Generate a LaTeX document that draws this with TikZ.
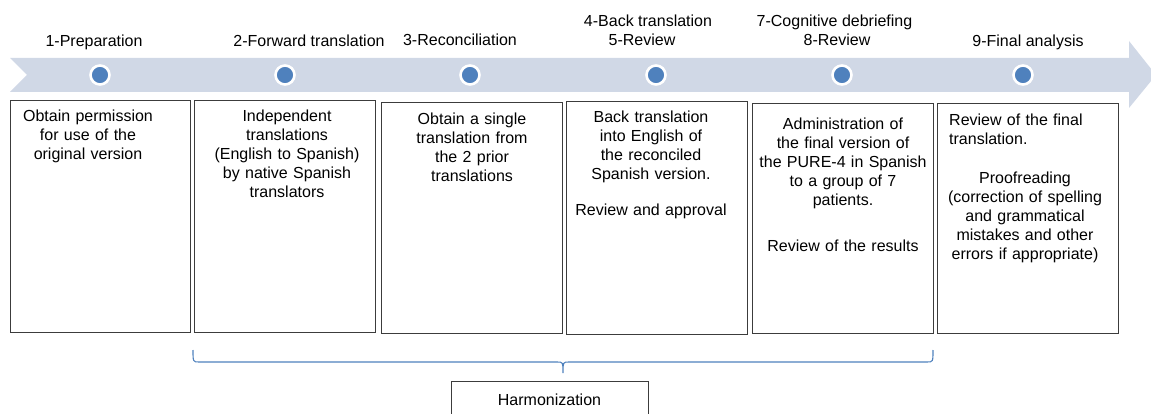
\documentclass[tikz,border=0pt]{standalone}
\usepackage{fontspec}
\setmainfont{Liberation Sans}
\definecolor{band}{RGB}{208,216,230}
\definecolor{dotblue}{RGB}{79,129,189}
\definecolor{boxline}{RGB}{60,60,60}
\begin{document}
\begin{tikzpicture}[x=1pt,y=-1pt,
  stepbox/.style={draw=boxline, line width=0.9pt, anchor=north west, inner sep=0pt},
  dotmark/.style={circle, fill=dotblue, draw=white, line width=2.6pt, minimum size=19pt, inner sep=0pt},
  lbl/.style={font=\fontsize{16}{19}\selectfont, anchor=base, inner sep=0pt},
  boxtxt/.style={font=\fontsize{16}{19}\selectfont, anchor=base, inner sep=0pt, text width=185pt, align=center},
  bracecol/.style={draw=dotblue, line width=1.1pt}]
\useasboundingbox (0,0) rectangle (1151,414);
\clip (0,0) rectangle (1151,414);
% arrow band
\fill[band] (10,58) -- (1129,58) -- (1129,41) -- (1156,75) -- (1129,108) -- (1129,92) -- (10,92) -- (27,75) -- cycle;
% dots
\foreach \x/\n in {100/d1,285/d2,470/d3,656/d4,842/d5,1023/d6}
  \node[dotmark] (\n) at (\x,75) {};
% top labels
\node[lbl] (l1) at (94,46.5) {1-Preparation};
\node[lbl] (l2) at (309,46.5) {2-Forward translation};
\node[lbl] (l3) at (460,46) {3-Reconciliation};
\node[lbl] (l4) at (648,27) {4-Back translation};
\node[lbl] (l5) at (642,46) {5-Review};
\node[lbl] (l7) at (834.5,27) {7-Cognitive debriefing};
\node[lbl] (l8) at (837,46) {8-Review};
\node[lbl] (l9) at (1028,46.5) {9-Final analysis};
% boxes
\node[stepbox, minimum width=180pt, minimum height=232pt] (b1) at (10,100) {};
\node[stepbox, minimum width=181pt, minimum height=232pt] (b2) at (194,100) {};
\node[stepbox, minimum width=181pt, minimum height=231pt] (b3) at (381,102) {};
\node[stepbox, minimum width=181pt, minimum height=233pt] (b4) at (566,101) {};
\node[stepbox, minimum width=181pt, minimum height=230pt] (b5) at (752,103) {};
\node[stepbox, minimum width=181pt, minimum height=230pt] (b6) at (937,103) {};
% box texts
\node[boxtxt] (t1) at (88,122) {Obtain permission\\for use of the\\original version};
\node[boxtxt] (t2) at (287,122) {Independent\\translations\\(English to Spanish)\\by native Spanish\\translators};
\node[boxtxt] (t3) at (472,125) {Obtain a single\\translation from\\the 2 prior\\translations};
\node[boxtxt] (t4) at (651,123) {Back translation\\into English of\\the reconciled\\Spanish version.\\[17pt]Review and approval};
\node[boxtxt] (t5) at (843,130) {Administration of\\the final version of\\the PURE-4 in Spanish\\to a group of 7\\patients.\\[27pt]Review of the results};
\node[font=\fontsize{16}{19}\selectfont, anchor=base west, inner sep=0pt, text width=165pt, align=left] (t6a) at (949,126) {Review of the final\\translation.};
\node[boxtxt] (t6b) at (1025,184) {Proofreading\\(correction of spelling\\and grammatical\\mistakes and other\\errors if appropriate)};
% brace
\coordinate (bl) at (193,350);
\coordinate (bm) at (563,373);
\coordinate (br) at (933,350);
\draw[bracecol] (bl) .. controls (193,362) .. (199,362) -- (557,362) .. controls (563,362) .. (bm)
  .. controls (563,362) .. (569,362) -- (927,362) .. controls (933,362) .. (br);
% harmonization
\node[draw=boxline, line width=0.9pt, anchor=north, minimum width=197pt, minimum height=36pt, inner sep=0pt,
  font=\fontsize{16}{19}\selectfont] (h) at (549.5,381) {Harmonization};
\end{tikzpicture}
\end{document}
